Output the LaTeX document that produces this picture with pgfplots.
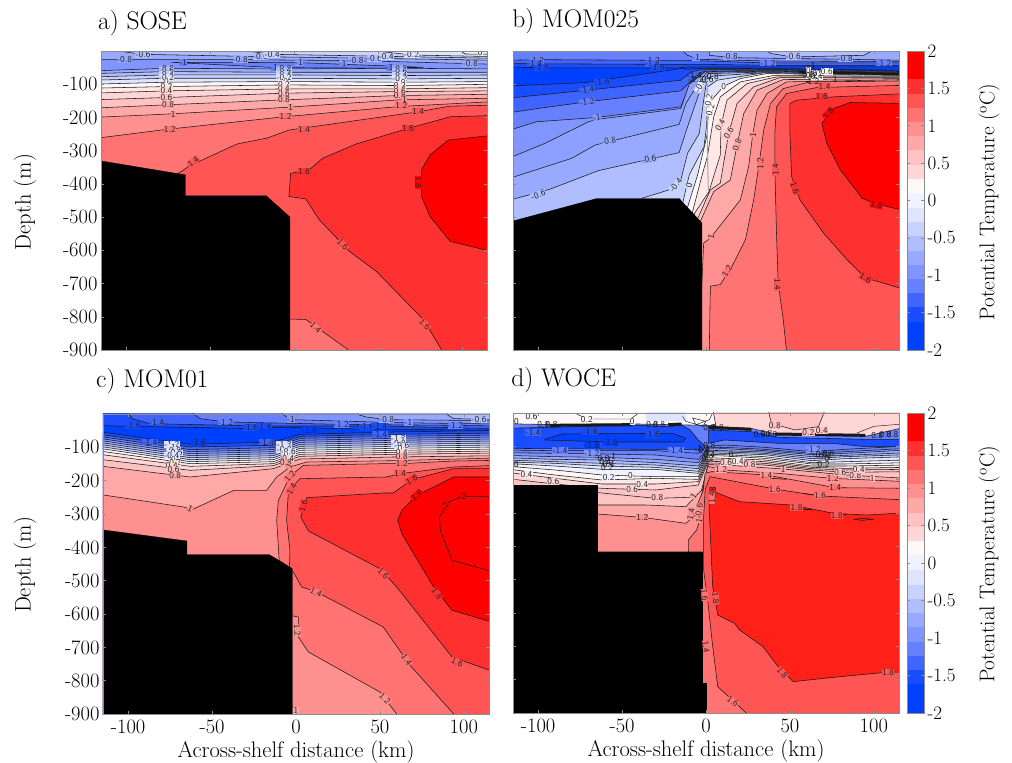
\documentclass[border=0pt]{standalone}
\usepackage{fontspec}
\usepackage{pgfplots}
\pgfplotsset{compat=1.18}
\definecolor{L18}{HTML}{FF0000}\definecolor{L16}{HTML}{FF3030}\definecolor{L14}{HTML}{FF5555}
\definecolor{L12}{HTML}{FF7373}\definecolor{L10}{HTML}{FF9090}\definecolor{L08}{HTML}{FFA8A8}
\definecolor{L06}{HTML}{FFC2C2}\definecolor{L04}{HTML}{FFD6D6}\definecolor{L02}{HTML}{FFE8E8}
\definecolor{L00}{HTML}{FFF8F8}\definecolor{Lm02}{HTML}{F0F2FF}\definecolor{Lm04}{HTML}{E0E5FF}
\definecolor{Lm06}{HTML}{C8D2FF}\definecolor{Lm08}{HTML}{B0BEFF}\definecolor{Lm10}{HTML}{98AAFF}
\definecolor{Lm12}{HTML}{8095FF}\definecolor{Lm14}{HTML}{6680FF}\definecolor{Lm16}{HTML}{3F64FF}
\definecolor{Lm18}{HTML}{1A4DFF}\definecolor{Lm20}{HTML}{0040FF}\definecolor{Lbig}{HTML}{FF2018}
\definecolor{Lpatch}{HTML}{DCE2FF}\definecolor{Lm11}{HTML}{8CA0FF}
\newcommand{\labfont}{\sffamily\fontsize{9}{9}\selectfont}
\newcommand{\reg}[2]{\addplot[fill=#1,draw=black!90,line width=.55pt,line join=round,mark=none,forget plot] coordinates {#2} --cycle;}
\newcommand{\plainreg}[2]{\addplot[fill=#1,draw=none,mark=none,forget plot] coordinates {#2} --cycle;}
\newcommand{\bath}[1]{\addplot[fill=black,draw=black,line width=.3pt,mark=none,forget plot] coordinates {#1} --cycle;}
\newcommand{\lin}[2]{\addplot[black!90,line width=#1,mark=none,forget plot] coordinates {#2};}
\newcommand{\lab}[5][0]{\node[font=\labfont,text=black!85,fill=#2,inner sep=.3pt,rotate=#1] at (axis cs:#3,#4) {#5};}
\newcommand{\laa}[4][0]{\node[font=\labfont,text=black!90,inner sep=0pt,rotate=#1] at (axis cs:#2,#3) {#4};}
\pgfplotsset{every axis title shift=0pt,panel/.style={scale only axis,width=386pt,height=299pt,xmin=-115,xmax=115,ymin=-900,ymax=0,
  anchor=south west,axis on top,no markers,
  axis line style={black!45,line width=.7pt},tick style={black!45,line width=.5pt},major tick length=3pt,
  tick align=inside,xtick={-100,-50,0,50,100},ytick={-900,-800,-700,-600,-500,-400,-300,-200,-100},
  xticklabels={},yticklabels={},
  tick label style={font=\fontsize{20.5}{24}\selectfont},
  label style={font=\fontsize{22.5}{26}\selectfont},
  xticklabel style={yshift=-2pt},
  title style={font=\fontsize{25.5}{28}\selectfont,anchor=base west,inner sep=0pt},
  ylabel style={at={(axis description cs:-0.197,0.495)},anchor=center},
  xlabel style={at={(axis description cs:0.5,-0.125)},anchor=center}},
  xlab/.style={xticklabels={-100,-50,0,50,100},xlabel={Across-shelf distance (km)}},
  ylab/.style={yticklabels={-900,-800,-700,-600,-500,-400,-300,-200,-100},ylabel={Depth (m)}},
  cbar/.style={scale only axis,width=17pt,xmin=0,xmax=1,ymin=-2,ymax=2,anchor=south west,axis on top,no markers,
  axis line style={black!45,line width=.7pt},tick style={black!45,line width=.5pt},major tick length=3pt,tick align=inside,
  xtick=\empty,ytick={-2,-1.5,-1,-0.5,0,0.5,1,1.5,2},yticklabels={-2,-1.5,-1,-0.5,0,0.5,1,1.5,2},yticklabel pos=right,
  ymajorticks=true,tick label style={font=\fontsize{19}{22}\selectfont},
  ylabel={Potential Temperature ($^{\mathrm{o}}$C)},
  label style={font=\fontsize{21.3}{24}\selectfont},
  ylabel style={at={(axis description cs:4.82,0.495)},anchor=center}}}
\newcommand{\bb}[3]{\addplot[fill=#1,draw=none,mark=none,forget plot] coordinates {(0,#2)(1,#2)(1,#3)(0,#3)} --cycle;}
\newcommand{\cbands}{%
\bb{Lm20}{-2}{-1.62}\bb{Lm18}{-1.62}{-1.43}\bb{Lm16}{-1.43}{-1.24}\bb{Lm14}{-1.24}{-1.05}\bb{Lm12}{-1.05}{-0.86}
\bb{Lm10}{-0.86}{-0.67}\bb{Lm08}{-0.67}{-0.48}\bb{Lm06}{-0.48}{-0.29}\bb{Lm04}{-0.29}{-0.10}\bb{Lm02}{-0.10}{0.10}
\bb{L00}{0.10}{0.29}\bb{L04}{0.29}{0.48}\bb{L06}{0.48}{0.67}\bb{L08}{0.67}{0.86}\bb{L10}{0.86}{1.05}
\bb{L12}{1.05}{1.24}\bb{L14}{1.24}{1.43}\bb{L16}{1.43}{1.62}\bb{L18}{1.62}{2}}
\begin{document}
\begin{tikzpicture}[x=1pt,y=1pt]
\path[use as bounding box] (0,0) rectangle (1012,763);
% ---------------- a) SOSE
\begin{axis}[panel,ylab,at={(101pt,413pt)},title={a) SOSE},title style={at={(axis description cs:-0.008,1.073)}}]
\plainreg{Lm12}{(-120,40)(120,40)(120,-1000)(-120,-1000)}
\reg{Lm14}{(-73,-34)(3,-35)(77,-49)(58,-52)(-10.5,-50)(-66,-36)}
\reg{Lm10}{(-120,-26)(-32,-26)(37,-29)(120,-40)(120,40)(-120,40)}
\reg{Lm08}{(-105,0)(-90,-10)(-20,-17)(48,-22)(120,-28)(120,40)(-105,40)}
\reg{Lm06}{(-28,0)(-13,-10)(55,-16)(120,-22)(120,40)(-28,40)}
\reg{Lm04}{(49,0)(70,-12)(120,-17)(120,40)(49,40)}
\reg{Lm02}{(100,0)(102,-9)(120,-10)(120,40)(100,40)}
\reg{Lm10}{(-120,-60)(-76,-52)(-6,-54)(63,-52)(120,-54)(120,-1000)(-120,-1000)}
\reg{Lm08}{(-120,-68)(-76,-62)(-6,-64)(63,-64)(120,-64)(120,-1000)(-120,-1000)}
\reg{Lm06}{(-120,-78)(-76,-72)(-6,-72)(63,-74)(120,-72)(120,-1000)(-120,-1000)}
\reg{Lm04}{(-120,-88)(-76,-82)(-6,-82)(63,-84)(120,-82)(120,-1000)(-120,-1000)}
\reg{L00}{(-120,-100)(-76,-94)(-6,-92)(63,-94)(120,-92)(120,-1000)(-120,-1000)}
\reg{L02}{(-120,-112)(-76,-107)(-6,-102)(63,-104)(120,-100)(120,-1000)(-120,-1000)}
\reg{L04}{(-120,-127)(-76,-120)(-6,-114)(63,-114)(120,-110)(120,-1000)(-120,-1000)}
\reg{L06}{(-120,-147)(-76,-140)(-6,-127)(63,-122)(120,-120)(120,-1000)(-120,-1000)}
\reg{L08}{(-120,-172)(-76,-162)(-6,-147)(63,-134)(120,-130)(120,-1000)(-120,-1000)}
\reg{L10}{(-120,-200)(-76,-190)(-6,-170)(63,-147)(120,-142)(120,-1000)(-120,-1000)}
\reg{L12}{(-120,-264)(-76,-236)(-6,-198)(63,-167)(120,-152)(120,-1000)(-120,-1000)}
\reg{L14}{(-70,-372)(-62,-345)(-34,-280)(-16,-262)(-3,-238)(74,-183)(93,-166)(120,-163)(120,-1000)(-70,-1000)}
\reg{L16}{(120,-194)(93,-198)(68,-233)(37,-280)(17,-323)(9,-358)(-2,-368)(-3,-438)(7,-445)(15,-508)(33,-603)(49,-663)(77,-808)(100,-1000)(120,-1000)}
\reg{L18}{(120,-253)(92,-268)(81,-313)(76,-358)(76,-438)(81,-498)(93,-573)(120,-606)}
\reg{L12}{(-10,-806)(7,-808)(32,-898)(50,-1000)(-10,-1000)}
\bath{(-116,-330)(-64.7,-373)(-64.7,-436)(-16.5,-436)(-2.4,-500)(-2.4,-901)(-116,-901)}
\lab{Lm10}{-101}{-25}{-0.8}\lab{Lm10}{-32}{-25}{-0.8}\lab{Lm10}{37}{-29}{-0.8}\lab{Lm10}{105}{-39}{-0.8}
\lab{Lm08}{-90}{-10}{-0.6}\lab{Lm08}{-20}{-17}{-0.6}\lab{Lm08}{48}{-22}{-0.6}
\lab{Lm06}{-13}{-10}{-0.4}\lab{Lm06}{55}{-16}{-0.4}\lab{Lm04}{70}{-12}{-0.2}\lab{Lm02}{111}{-6}{0}
\lab{Lm14}{-66}{-34}{-1}\lab{Lm14}{-12}{-50}{-1}\lab{Lm12}{3}{-35}{-1}\lab{Lm12}{29}{-36}{-1}\lab{Lm14}{57}{-50}{-1}
\lab{Lm10}{-76}{-52}{-0.8}\lab{Lm08}{-76}{-60}{-0.6}\lab{Lm06}{-76}{-70}{-0.4}\lab{Lm04}{-76}{-80}{-0.2}\lab{L00}{-76}{-93}{0}\lab{L02}{-76}{-107}{0.2}\lab{L04}{-76}{-120}{0.4}\lab{L06}{-76}{-140}{0.6}\lab{L08}{-75}{-162}{0.8}\lab{L10}{-72}{-190}{1}\lab{L12}{-74}{-236}{1.2}
\lab{Lm10}{-6}{-54}{-0.8}\lab{Lm08}{-6}{-62}{-0.6}\lab{Lm06}{-6}{-71}{-0.4}\lab{Lm04}{-6}{-81}{-0.2}\lab{L00}{-5}{-92}{0}\lab{L02}{-6}{-102}{0.2}\lab{L04}{-6}{-114}{0.4}\lab{L06}{-6}{-127}{0.6}\lab{L08}{-6}{-147}{0.8}\lab{L10}{-2}{-169}{1}\lab{L12}{-5}{-197}{1.2}\lab{L14}{6}{-235}{1.4}
\lab{Lm10}{63}{-52}{-0.8}\lab{Lm08}{63}{-62}{-0.6}\lab{Lm06}{63}{-73}{-0.4}\lab{Lm04}{63}{-83}{-0.2}\lab{L00}{65}{-94}{0}\lab{L02}{63}{-104}{0.2}\lab{L04}{63}{-114}{0.4}\lab{L06}{63}{-122}{0.6}\lab{L08}{63}{-134}{0.8}\lab{L10}{66}{-147}{1}\lab{L12}{64}{-165}{1.2}\lab{L14}{74}{-182}{1.4}\lab{L16}{68}{-232}{1.6}
\lab[40]{L14}{-60}{-333}{1.4}\lab{L16}{6}{-363}{1.6}\lab[-90]{L18}{74}{-396}{1.8}\lab[-45]{L14}{29}{-583}{1.6}\lab[-45]{L14}{78}{-823}{1.6}\lab[-45]{L12}{13}{-833}{1.4}
\end{axis}
% ---------------- b) MOM025
\begin{axis}[panel,at={(513pt,413pt)},title={b) MOM025},title style={at={(axis description cs:-0.002,1.077)}}]
\plainreg{Lm20}{(-120,40)(120,40)(120,-1000)(-120,-1000)}
\reg{Lm18}{(-120,-48)(-92,-51)(-34,-51)(-16,-51)(-11,-48)(36,-48)(120,-48)(120,40)(-120,40)}
\reg{Lm16}{(-120,-38)(-34,-40)(-3.4,-40)(36,-43)(120,-43)(120,40)(-120,40)}
\reg{Lm14}{(-120,-28)(-100,-26)(-31,-28)(-11,-28)(36,-36)(120,-36)(120,40)(-120,40)}
\reg{Lm12}{(-14,40)(-14,0)(-11,-13)(-3.4,-25)(36,-30)(120,-32)(120,40)}
\reg{Lm10}{(2,40)(2,0)(2,-13)(16,-20)(84,-25)(120,-28)(120,40)}
\reg{Lm08}{(36,0)(39,-8)(52,-18)(94,-13)(99,0)(99,40)(36,40)}
\reg{Lm18}{(-120,-106)(-72,-95)(-14,-52)(-12,-55)(-1.4,-52)(36,-53)(120,-58)(120,-1000)(-120,-1000)}
\reg{Lm16}{(-120,-143)(-71,-118)(-15,-88)(-9,-63)(-1.4,-54)(36,-55)(120,-60)(120,-1000)(-120,-1000)}
\reg{Lm14}{(-120,-188)(-100,-173)(-71,-153)(-15,-120)(-5.4,-73)(-.4,-56)(36,-57)(120,-62)(120,-1000)(-120,-1000)}
\reg{Lm12}{(-120,-243)(-101,-213)(-65,-200)(-15,-168)(-9,-93)(-.4,-60)(36,-59)(120,-64)(120,-1000)(-120,-1000)}
\reg{Lm11}{(-120,-328)(-96,-278)(-70,-213)(-65,-206)(-15,-173)(-10,-100)(-.4,-62)(36,-60)(120,-65)(120,-1000)(-120,-1000)}
\reg{Lm10}{(-120,-388)(-80,-323)(-66,-283)(-58,-273)(-16,-221)(-12,-158)(-3.4,-88)(.6,-64)(36,-61)(120,-66)(120,-1000)(-120,-1000)}
\reg{Lm08}{(-120,-453)(-93,-416)(-64,-360)(-34,-326)(-16,-306)(-11,-228)(-1.4,-88)(1.6,-68)(36,-63)(120,-68)(120,-1000)(-120,-1000)}
\reg{Lm06}{(-38,-443)(-22,-418)(-15,-388)(-11,-308)(-4,-248)(-1.4,-148)(.6,-83)(4.6,-75)(36,-65)(120,-70)(120,-1000)(-38,-1000)}
\reg{Lm04}{(-14,-460)(-10,-373)(-1.2,-288)(.4,-223)(1,-108)(6.6,-88)(34,-66)(120,-72)(120,-1000)(-14,-1000)}
\reg{L00}{(-11,-470)(-5,-373)(-1.2,-293)(.8,-248)(1.6,-158)(10.5,-106)(20.5,-83)(36,-68)(120,-74)(120,-1000)(-11,-1000)}
\reg{L02}{(-8,-483)(-2,-368)(.8,-318)(4.6,-198)(8.5,-138)(20.5,-93)(40,-74)(120,-76)(120,-1000)(-8,-1000)}
\reg{L04}{(-7,-490)(1.8,-423)(8.5,-313)(9,-223)(12.5,-148)(24.5,-98)(42,-78)(120,-78)(120,-1000)(-7,-1000)}
\reg{L06}{(-5,-505)(2.6,-418)(8.5,-398)(13.5,-248)(18.5,-158)(28.4,-108)(44,-80)(120,-80)(120,-1000)(-5,-1000)}
\reg{L08}{(-3.4,-513)(4.6,-423)(14.5,-388)(18.5,-283)(22.5,-188)(30.4,-118)(46,-86)(120,-83)(120,-1000)(-3.4,-1000)}
\reg{L10}{(-1.4,-578)(2.6,-563)(20.5,-448)(25.4,-348)(27.8,-253)(30.4,-178)(36.4,-128)(48,-93)(120,-86)(120,-1000)(-5,-1000)}
\reg{L12}{(1.6,-1000)(2.6,-708)(8.5,-703)(15.5,-648)(23.5,-568)(28.4,-448)(31.4,-348)(34.4,-238)(38.4,-158)(46,-113)(62,-93)(120,-90)(120,-1000)}
\reg{L14}{(50,-1000)(46,-808)(43,-698)(42,-548)(41,-348)(41,-248)(42,-168)(48,-128)(66,-110)(120,-103)(120,-1000)}
\reg{L16}{(120,-720)(95,-683)(84,-628)(70,-548)(56,-448)(51,-378)(50,-248)(50,-158)(54,-148)(76,-138)(120,-128)}
\reg{L18}{(120,-483)(100,-458)(93,-443)(80,-358)(72,-278)(69,-218)(76,-173)(86,-155)(120,-158)}
\lin{2.5pt}{(55,-63)(120,-70)}
\addplot[black!35,line width=1pt,mark=none,forget plot] coordinates {(.8,-100)(.8,-300)(1.4,-420)};
\bath{(-116,-513)(-65,-444)(-16,-444)(-2.4,-518)(-2.4,-901)(-116,-901)}
\lab{Lm14}{-101}{-28}{-1.2}\lab{Lm16}{-102}{-36}{-1.4}\lab{Lm18}{-98}{-51}{-1.6}\lab{Lm14}{-32}{-28}{-1.2}\lab{Lm16}{-32}{-38}{-1.4}\lab{Lm18}{-29}{-51}{-1.6}
\lab{Lm12}{-6}{-20}{-1}\lab{Lm10}{14.5}{-18}{-0.8}\lab{Lm08}{52}{-18}{-0.6}\lab{Lm10}{83}{-24}{-0.8}\lab{Lm14}{37}{-36}{-1.2}\lab{Lm14}{106}{-36}{-1.2}
\lab[5]{Lm18}{-62}{-93}{-1.6}\lab[10]{Lm16}{-71}{-118}{-1.4}\lab[10]{Lm14}{-71}{-153}{-1.2}\lab[10]{Lm12}{-65}{-200}{-1}\lab[10]{Lm10}{-58}{-271}{-0.8}\lab[10]{Lm10}{-34}{-326}{-0.6}\lab[20]{Lm08}{-100}{-433}{-0.6}
\lab[50]{Lm06}{-18}{-403}{-0.4}\lab[75]{Lm04}{-10}{-406}{0}\lab[75]{L00}{2.6}{-178}{0.2}\lab[80]{L00}{1.6}{-148}{0.2}\lab{L00}{10.5}{-106}{0}\lab[60]{Lm04}{-3.4}{-103}{-0.8}
\laa{-7}{-75}{-1.4}\laa{-6}{-85}{-1.2}\laa{1}{-85}{0.6}\laa{4}{-78}{0.8}
\lab[60]{L04}{8.5}{-223}{0.4}\lab[60]{L06}{13.5}{-248}{0.6}\lab[70]{L08}{18.5}{-283}{0.8}\lab[85]{L10}{28}{-253}{1}\lab[90]{L12}{32.4}{-338}{1.2}\lab[90]{L14}{41.4}{-358}{1.4}\lab[-70]{L16}{53}{-413}{1.6}
\lab[50]{L18}{73}{-188}{1.8}\lab[-15]{L18}{101.6}{-463}{1.8}\lab[-30]{L16}{95}{-683}{1.6}\lab[-90]{L14}{42.7}{-703}{1.4}\lab[60]{L12}{12.5}{-663}{1.2}\lab[80]{L10}{3}{-560}{1}
\lab{L16}{69}{-138}{1.6}\lab{L14}{70.6}{-106}{1.4}
\lab{white}{62}{-75}{-1}\lab{white}{64}{-68}{-1.2}\lab{white}{61}{-60}{0}\lab{white}{66}{-78}{0.4}\laa{60}{-70}{-0.8}\laa{63}{-74}{0.2}\laa{66}{-68}{-0.2}\lab{white}{72}{-62}{0.6}\laa{63}{-45}{-1}\laa{77}{-85}{1}\laa{64}{-92}{1.2}
\end{axis}
\begin{axis}[cbar,height=299pt,at={(907pt,413pt)}]
\cbands
\end{axis}
% ---------------- c) MOM01
\begin{axis}[panel,ylab,xlab,at={(103pt,49pt)},height=300pt,title={c) MOM01},title style={at={(axis description cs:-0.018,1.087)}},
 ylabel style={at={(axis description cs:-0.202,0.497)}}]
\plainreg{Lm20}{(-120,40)(120,40)(120,-1000)(-120,-1000)}
\reg{Lm18}{(-120,-34)(-100,-37)(-31,-43)(-5,-40)(26,-44)(84,-47)(120,-49)(120,40)(-120,40)}
\reg{Lm16}{(-100,40)(-100,0)(-97,-15)(-87,-29)(-19,-36)(50,-36)(120,-44)(120,40)}
\reg{Lm14}{(-61,40)(-61,0)(-57,-14)(-42,-24)(27,-31)(94,-34)(120,-36)(120,40)}
\reg{Lm12}{(-8,40)(-8,0)(-5,-11)(-2,-17)(60,-26)(120,-30)(120,40)}
\reg{Lm10}{(37,40)(37,-2)(42,-9)(54,-17)(120,-20)(120,40)}
\reg{Lm08}{(90,40)(90,-2)(94,-14)(120,-16)(120,40)}
\reg{Lm18}{(-120,-51)(-63,-91)(-13.5,-84)(2.4,-61)(58,-54)(120,-49)(120,-1000)(-120,-1000)}
\reg{Lm16}{(-120,-59)(-63,-99)(-13.5,-94)(2.4,-67)(58,-61)(120,-57)(120,-1000)(-120,-1000)}
\reg{Lm14}{(-120,-65)(-63,-107)(-13.5,-101)(2.4,-73)(58,-67)(120,-63)(120,-1000)(-120,-1000)}
\reg{Lm12}{(-120,-71)(-63,-113)(-13.5,-107)(2.4,-79)(58,-73)(120,-69)(120,-1000)(-120,-1000)}
\reg{Lm10}{(-120,-77)(-63,-119)(-13.5,-113)(2.4,-85)(58,-79)(120,-75)(120,-1000)(-120,-1000)}
\reg{Lm08}{(-120,-83)(-63,-125)(-13.5,-119)(2.4,-91)(58,-85)(120,-81)(120,-1000)(-120,-1000)}
\reg{Lm06}{(-120,-89)(-63,-131)(-13.5,-125)(2.4,-97)(58,-91)(120,-87)(120,-1000)(-120,-1000)}
\reg{Lm04}{(-120,-95)(-63,-137)(-13.5,-131)(2.4,-103)(58,-97)(120,-93)(120,-1000)(-120,-1000)}
\reg{L00}{(-120,-101)(-63,-143)(-13.5,-137)(2.4,-109)(58,-103)(120,-99)(120,-1000)(-120,-1000)}
\reg{L02}{(-120,-109)(-63,-149)(-13.5,-143)(2.4,-115)(58,-109)(120,-105)(120,-1000)(-120,-1000)}
\reg{L04}{(-120,-119)(-63,-157)(-13.5,-149)(2.4,-121)(58,-115)(120,-111)(120,-1000)(-120,-1000)}
\reg{L06}{(-120,-134)(-63,-169)(-13.5,-155)(2.4,-127)(58,-121)(120,-117)(120,-1000)(-120,-1000)}
\reg{L08}{(-120,-154)(-63,-189)(-13.5,-164)(2.4,-135)(58,-129)(120,-125)(120,-1000)(-120,-1000)}
\reg{L10}{(-120,-239)(-67,-279)(-62,-287)(-37,-229)(-17.5,-229)(-11.5,-189)(-3.6,-159)(6.4,-144)(58,-140)(120,-132)(120,-1000)(-120,-1000)}
\reg{L12}{(-10,-441)(-11.5,-319)(-10.5,-259)(-3.6,-187)(4.4,-154)(52,-149)(63,-149)(94,-141)(120,-139)(120,-1000)(68,-1000)(60,-900)(50,-834)(7.4,-714)(1.4,-669)(1.4,-609)(-3.6,-604)}
\reg{L08}{(-3,-879)(-2,-879)(2,-905)(-3,-905)}
\reg{L14}{(-4,-469)(-3.6,-409)(-5.6,-319)(-4.6,-239)(-1.6,-214)(2.4,-194)(54,-189)(62,-179)(94,-159)(120,-154)(120,-1000)(100,-1000)(94,-900)(68,-754)(52,-639)(12.3,-534)(3.4,-519)(-1.6,-474)}
\reg{L16}{(2.8,-309)(6.4,-251)(52,-237)(58,-237)(69,-197)(94,-164)(120,-164)(120,-777)(93,-729)(60,-519)(50,-464)(7.4,-351)}
\reg{L18}{(120,-629)(93,-589)(82,-519)(63,-359)(60.6,-319)(63,-289)(72,-244)(94,-189)(120,-189)}
\reg{L18}{(120,-247)(99,-247)(91,-264)(85.5,-309)(86,-349)(93,-439)(120,-477)}
\bath{(-116,-347)(-65,-381)(-65,-422)(-16,-422)(-9.5,-441)(-2.2,-464)(-2.2,-901)(-116,-901)}
\lab{Lm18}{-97}{-36}{-1.6}\lab{Lm16}{-83}{-24}{-1.4}\lab{Lm14}{-42}{-24}{-1.2}\lab{Lm18}{-27}{-41}{-1.6}\lab{Lm18}{-19}{-36}{-1.4}\lab{Lm12}{-3}{-17}{-1}\lab{Lm20}{8}{-49}{-1.6}\lab{Lm14}{27}{-31}{-1.2}\lab{Lm18}{42}{-39}{-1.6}\lab{Lm18}{50}{-36}{-1.4}\lab{Lm10}{54}{-17}{-0.8}\lab{Lm12}{67}{-26}{-1}\lab{Lm14}{95}{-34}{-1.2}\lab{Lm08}{109}{-17}{-0.6}\lab{Lm16}{50}{-61}{-1.4}\lab{Lm16}{-87}{-84}{-1.4}\lab{Lm20}{-58}{-86}{-1.6}\lab{Lm16}{-17.5}{-84}{-1.4}
\lab{Lpatch}{-74}{-92}{-1.2}\lab{Lpatch}{-74}{-101}{-1}\lab{Lpatch}{-73}{-109}{-0.8}\lab{Lpatch}{-72}{-117}{-0.6}\lab{Lpatch}{-74}{-125}{-0.4}\lab{L00}{-73}{-137}{0}\lab{L02}{-72}{-147}{0.2}\lab{L04}{-74}{-156}{0.4}\lab{L06}{-73}{-166}{0.6}\lab{L08}{-72}{-186}{0.8}
\lab{Lpatch}{-7}{-92}{-1.2}\lab{Lpatch}{-4.6}{-98}{-1}\lab{Lpatch}{-7}{-106}{-0.8}\lab{Lpatch}{-4.6}{-112}{-0.6}\lab{L00}{-6}{-122}{0}\lab{L04}{-4.6}{-134}{0.4}\lab{L08}{-6}{-147}{0.8}
\lab{Lpatch}{61}{-72}{-1.2}\lab{Lpatch}{63}{-80}{-1}\lab{Lpatch}{61}{-88}{-0.8}\lab{Lpatch}{63}{-96}{-0.6}\lab{L00}{62}{-105}{0}\lab{L04}{63}{-115}{0.4}\lab{L08}{63}{-128}{0.8}
\lab{L12}{63}{-149}{1.2}\lab{L14}{62}{-179}{1.4}\lab[30]{L16}{69}{-197}{1.6}\lab[40]{L18}{72}{-244}{1.8}\lab{L18}{100}{-247}{2}\lab[60]{L18}{89}{-272}{2}
\lab[-25]{L10}{-63}{-284}{1}
\lab[75]{L16}{4.4}{-277}{1.6}\lab[60]{L14}{-2.6}{-224}{1.4}\lab[50]{L12}{-3.6}{-187}{1.2}\lab[60]{L10}{-4}{-157}{1}
\lab[-45]{L14}{52}{-479}{1.6}\lab[-25]{L12}{12}{-534}{1.4}\lab[-85]{L10}{.8}{-649}{1.2}\lab[-55]{L16}{84}{-539}{1.8}\lab[-25]{L14}{96}{-744}{1.6}\lab[-55]{L12}{66}{-737}{1.4}\lab[-45]{L10}{53}{-854}{1.2}\lab{L08}{0}{-889}{1}
\end{axis}
% ---------------- d) WOCE
\begin{axis}[panel,xlab,at={(513pt,50pt)},height=300pt,title={d) WOCE},title style={at={(axis description cs:-0.005,1.087)}}]
\plainreg{Lm14}{(-120,40)(120,40)(120,-1000)(-120,-1000)}
\reg{L00}{(-120,-32)(-90,-35)(-40,-33)(0,-37)(120,-33)(120,40)(-120,40)}
\plainreg{Lm04}{(-36,40)(-36,-24)(-12,-24)(-11,40)}
\lin{.45pt}{(-78,0)(-76,-6)(-70,-18)(-45,-18)(-40,0)}
\reg{L04}{(3,40)(6,-41)(27,-46)(41,-63)(96,-69)(120,-41)(120,40)}
\reg{L06}{(37,10)(39,-31)(53,-51)(67,-41)(71,10)}
\lin{.45pt}{(90,-60)(100,-40)(120,-32)}
\lin{.45pt}{(-14,-10)(-12,-25)(-2,-40)(0,-25)(-8,-15)(-6,-35)(2,-20)(4,0)}
\reg{Lm18}{(-120,-46)(-93,-43)(-44,-36)(-22,-41)(-14.5,-36)(-9.5,-51)(-4.6,-81)(-.6,-99)(-1.6,-109)(-36,-109)(-120,-106)}
\reg{Lm20}{(-96,-79)(-86,-63)(-20,-61)(-12,-76)(-14,-87)(-56,-87)(-96,-81)}
\reg{Lm18}{(1.4,-51)(27,-56)(43,-73)(95,-79)(120,-79)(120,-101)(95,-101)(75,-91)(43,-91)(11,-81)(1.4,-91)}
\lin{3pt}{(-93,-37)(-44,-35)}\lin{3pt}{(-22.5,-35)(-14.5,-33)}\lin{3pt}{(1.4,-43)(27,-49)}\lin{3pt}{(41,-63)(95,-67)}
\reg{Lm14}{(-120,-111)(-90,-113)(-62,-113)(-30,-113)(-4.6,-121)(1.4,-100)(11,-96)(35,-103)(63,-116)(83,-109)(120,-99)(120,-1000)(-120,-1000)}
\reg{Lm12}{(-120,-119)(-90,-121)(-62,-123)(-30,-126)(-4.6,-139)(1.4,-105)(11,-103)(35,-109)(63,-121)(83,-116)(120,-106)(120,-1000)(-120,-1000)}
\reg{Lm10}{(-120,-127)(-90,-131)(-62,-133)(-30,-139)(-4.6,-149)(1.4,-108)(11,-107)(35,-113)(63,-125)(83,-121)(120,-111)(120,-1000)(-120,-1000)}
\reg{Lm08}{(-120,-134)(-90,-139)(-62,-141)(-30,-149)(-4.6,-159)(1.4,-112)(11,-113)(35,-117)(63,-131)(83,-127)(120,-119)(120,-1000)(-120,-1000)}
\reg{Lm06}{(-120,-141)(-90,-146)(-62,-151)(-30,-156)(-4.6,-167)(1.4,-116)(11,-117)(35,-121)(63,-137)(83,-131)(120,-125)(120,-1000)(-120,-1000)}
\reg{Lm04}{(-120,-147)(-90,-151)(-62,-159)(-30,-163)(-4.6,-175)(1.4,-120)(11,-121)(35,-125)(63,-143)(83,-137)(120,-131)(120,-1000)(-120,-1000)}
\reg{Lm02}{(-120,-151)(-90,-159)(-62,-169)(-30,-169)(-4.6,-181)(1.4,-124)(11,-125)(35,-131)(63,-149)(83,-146)(120,-141)(120,-1000)(-120,-1000)}
\reg{L00}{(-120,-159)(-90,-171)(-62,-186)(-30,-191)(-4.6,-191)(1.4,-128)(11,-129)(35,-136)(63,-153)(83,-153)(120,-149)(120,-1000)(-120,-1000)}
\reg{L02}{(-120,-167)(-90,-186)(-62,-201)(-30,-196)(-4.6,-199)(1.4,-134)(11,-136)(35,-141)(63,-159)(83,-159)(120,-156)(120,-1000)(-120,-1000)}
\reg{L04}{(-120,-177)(-90,-196)(-62,-213)(-30,-213)(-4.6,-206)(1.4,-140)(11,-141)(35,-146)(63,-163)(83,-166)(120,-163)(120,-1000)(-120,-1000)}
\reg{L06}{(-120,-196)(-90,-213)(-62,-226)(-30,-231)(-4.6,-216)(1.4,-145)(11,-146)(35,-151)(63,-167)(83,-171)(120,-169)(120,-1000)(-120,-1000)}
\reg{L06}{(-70,-236)(-30,-256)(-10,-253)(-3,-241)(1.4,-150)(11,-151)(35,-156)(63,-171)(83,-178)(120,-176)(120,-1000)(-70,-1000)}
\reg{L08}{(-70,-276)(-36,-276)(-12,-281)(-2.6,-231)(1.4,-155)(11,-156)(46,-168)(83,-186)(120,-196)(120,-1000)(-70,-1000)}
\reg{L10}{(-70,-301)(-38,-313)(-12,-331)(-5,-300)(1,-160)(11,-171)(43,-181)(75,-196)(120,-206)(120,-1000)(-70,-1000)}
\reg{L12}{(-.6,-181)(-1.6,-231)(-5.6,-281)(-3.6,-321)(-5.6,-351)(-10.5,-381)(-10.5,-1000)(120,-1000)(120,-226)(77,-224)(63,-211)(36,-186)(3.4,-176)}
\reg{L14}{(-1.4,-311)(-.5,-230)(2.4,-191)(42,-229)(68,-249)(120,-261)(120,-1000)(30,-1000)(24,-900)(7,-821)(4,-701)(1.2,-571)(-1.4,-471)}
\reg{Lbig}{(2.2,-231)(20,-266)(51,-276)(76,-301)(96,-306)(120,-299)(120,-776)(105,-779)(76,-793)(52,-806)(43,-761)(34,-701)(20,-651)(17,-631)(7,-606)(4,-521)(2.2,-321)(1.8,-291)}
\lin{.6pt}{(39,-196)(48,-199)}\lin{.6pt}{(58,-241)(65,-246)}\lin{.8pt}{(57,-289)(63,-289)}\lin{.6pt}{(75,-306)(84,-305)}\lin{.5pt}{(88,-319)(93,-316)(100,-319)(93,-322)(88,-319)}
\bath{(-116,-216)(-65,-216)(-65,-416)(-2.2,-416)(-2.2,-811)(.2,-811)(.2,-901)(-116,-901)}
\lab{Lm16}{-103}{-59}{-1.4}\lab{Lm18}{-69}{-56}{-1.6}\lab{Lm18}{-32}{-66}{-1.6}\lab{L00}{-71}{-21}{0.2}\lab{L00}{-44}{-26}{0}\lab{Lm20}{-57}{-89}{-1.6}\lab{Lm20}{-68}{-98}{-1.8}\lab{Lm14}{-87}{-113}{-1.4}\lab{Lm12}{-68}{-121}{-1.2}\lab{Lm14}{-18}{-111}{-1.4}\laa{-2.6}{-106}{-1.2}
\laa{-61}{-136}{0.8}\laa{-60}{-146}{0.4}\laa{-58}{-155}{0.4}\laa{-59}{-165}{0.2}\laa{-56}{-130}{-1}
\laa{-104}{-10}{0.6}\laa{-113}{-25}{0}\laa{-97}{-36}{0.8}\laa{-92}{-36}{0.8}\laa{-32}{-36}{0.8}\laa{-28}{-36}{0.8}\laa{-113}{-155}{0}
\lab{L02}{-107}{-184}{0.4}\lab{L04}{-91}{-206}{0.6}\lab{Lm02}{-58}{-194}{0.2}\lab{L00}{-45}{-189}{0}\lab{L04}{-44}{-229}{0.6}\lab{L02}{-38}{-216}{0.4}\lab{L06}{-29}{-254}{0.8}\lab{L10}{-38}{-313}{1.2}\lab[60]{L08}{-7.5}{-249}{1}
\lab{L04}{12}{-149}{0.6}\lab{L02}{19}{-146}{0.4}\lab{L06}{26}{-154}{0.8}\laa{15}{-124}{0}\lab{L08}{9}{-169}{1.2}\lab{L08}{46}{-168}{1}\lab{L10}{36}{-186}{1.4}\lab{L12}{41}{-229}{1.6}\lab{L12}{68}{-249}{1.6}\lab{L12}{77}{-224}{1.4}\lab{L14}{54}{-284}{1.8}\lab{L14}{78}{-309}{1.8}\lab{L10}{75.5}{-196}{1.2}\lab{Lm12}{64}{-109}{-1.2}
\laa{68}{-126}{-0.8}\laa{72}{-122}{-0.8}\laa{70}{-132}{-0.4}\laa{72}{-136}{0}\laa{70}{-156}{0.2}\lab{L06}{80}{-178}{0.6}\lab{L06}{89}{-188}{0.8}\lab{L06}{99}{-196}{1}\lab{L04}{91}{-171}{0.4}\lab{L06}{41}{-37}{0.8}\lab{L06}{69}{-53}{0.4}\lab{L06}{61}{-59}{0.2}
\laa{32}{-64}{0.8}\laa{36}{-62}{0.8}\laa{39}{-66}{0.8}\laa{102}{-68}{0.8}\laa{107}{-66}{0.8}\laa{111}{-64}{0.8}\laa{2}{-44}{0.8}\laa{7}{-44}{0.8}\laa{-2}{-112}{-0.8}\laa{1}{-98}{-0.8}\laa{2}{-125}{0.4}\laa{1}{-137}{0.2}
\lab[-85]{L14}{5.8}{-556}{1.8}\lab[-85]{L12}{-.8}{-546}{1.6}\lab[-85]{L12}{0}{-701}{1.4}\lab[-50]{L14}{45.5}{-779}{1.8}\lab[-35]{L12}{16}{-866}{1.6}\lab{L14}{108.5}{-778}{1.8}
\lab[80]{L10}{-9}{-303}{1.4}\lab[80]{L10}{-4}{-290}{0.6}\lab[80]{L10}{-4}{-322}{1}\lab[90]{Lbig}{4}{-240}{1.8}\lab[90]{L12}{3.5}{-255}{1.4}
\end{axis}
\begin{axis}[cbar,height=300pt,at={(907pt,50pt)}]
\cbands
\end{axis}
\end{tikzpicture}
\end{document}
